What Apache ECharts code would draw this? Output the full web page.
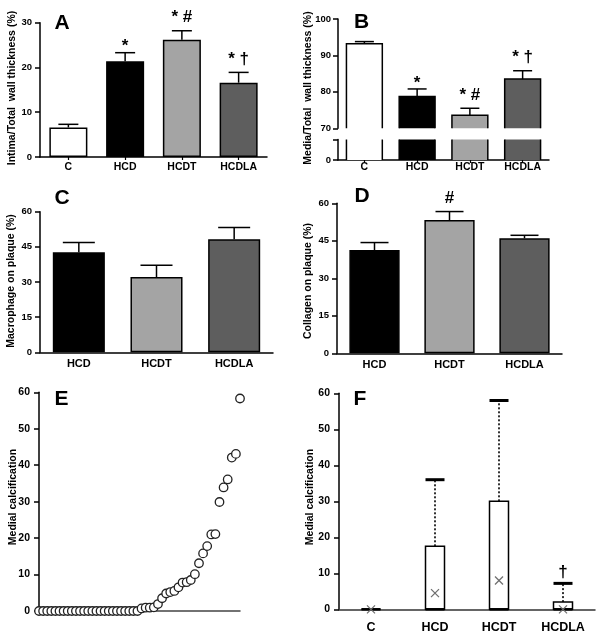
<!DOCTYPE html>
<html><head><meta charset="utf-8">
<script src="https://cdn.jsdelivr.net/npm/echarts@6/dist/echarts.min.js"></script>
<style>html,body{margin:0;padding:0;background:#fff}#c{width:600px;height:641px}</style>
</head><body><div id="c"></div>
<script>
const FONT = '"Liberation Sans", Arial, sans-serif';

// ---- Panel A: Intima/Total wall thickness (%)
const catsA = ['C', 'HCD', 'HCDT', 'HCDLA'];
const valsA = [6.6, 21.4, 26.2, 16.6];
const errA = [0.7, 1.9, 2.0, 2.3];
const markA = ['', '*', '* #', '* \u2020'];
const ticksA = [0, 10, 20, 30];

// ---- Panel B: Media/Total wall thickness (%) (broken axis)
const catsB = ['C', 'HCD', 'HCDT', 'HCDLA'];
const valsB = [93.2, 78.7, 73.6, 83.5];
const errB = [0.6, 2.1, 1.9, 2.3];
const markB = ['', '*', '* #', '* \u2020'];
const ticksBUpper = [70, 80, 90, 100];
const ticksBLower = [0, 70];

// ---- Panel C: Macrophage on plaque (%)
const catsC = ['HCD', 'HCDT', 'HCDLA'];
const valsC = [42.7, 32.1, 48.2];
const errC = [4.2, 5.0, 5.1];
const ticksC = [0, 15, 30, 45, 60];

// ---- Panel D: Collagen on plaque (%)
const catsD = ['HCD', 'HCDT', 'HCDLA'];
const valsD = [41.3, 53.3, 46.0];
const errD = [3.0, 3.4, 1.2];
const markD = ['', '#', ''];
const ticksD = [0, 15, 30, 45, 60];

// ---- Panel E: Medial calcification, all animals ranked
const calcZeros = [0,0,0,0,0,0,0,0,0,0,0,0,0,0,0,0,0,0,0,0,0,0,0,0,0];
const calcNonZero = [0.7, 0.9, 0.9, 1.0, 1.9, 3.5, 4.8, 5.2, 5.5, 6.5, 7.8, 7.9, 8.5,
  10.1, 13.1, 15.8, 17.8, 21.0, 21.1, 29.9, 33.9, 36.1, 42.1, 43.1, 58.3];
const ticksE = [0, 10, 20, 30, 40, 50, 60];

// ---- Panel F: Medial calcification box plot
const catsF = ['C', 'HCD', 'HCDT', 'HCDLA'];
const fMin = [0, 0, 0, 0];
const fQ1 = [0, 0, 0, 0];
const fMed = [0, 0, 0, 0];
const fQ3 = [0, 17.5, 30, 2];
const fMax = [0, 36, 58, 7.2];
const fMean = [0, 4.5, 8, 0];
const markF = ['', '', '', '\u2020'];
const ticksF = [0, 10, 20, 30, 40, 50, 60];

const groupColor = { C: '#ffffff', HCD: '#000000', HCDT: '#a4a4a4', HCDLA: '#5e5e5e' };

const chart = echarts.init(document.getElementById('c'), null, { renderer: 'canvas' });

const grids = [
  { left: 40, top: 22.7, width: 227, height: 134.3 },   // A
  { left: 338, top: 19, width: 211, height: 109.3 },    // B upper
  { left: 338, top: 139.5, width: 211, height: 20.5 },  // B lower
  { left: 40, top: 211.7, width: 233, height: 140.6 },  // C
  { left: 337, top: 203.3, width: 225, height: 150 },   // D
  { left: 39, top: 392.3, width: 201, height: 218.7 },  // E
  { left: 339, top: 393.3, width: 256, height: 216 }    // F
];

const axLine = { show: true, lineStyle: { color: '#000', width: 1.5 } };
function yAx(gi, ticks, opts) {
  return Object.assign({
    type: 'value', gridIndex: gi, min: ticks[0], max: ticks[ticks.length - 1],
    interval: ticks[1] - ticks[0],
    axisLine: axLine,
    axisTick: { show: true, length: 5, lineStyle: { color: '#000', width: 1.5 } },
    axisLabel: { fontFamily: FONT, fontWeight: 'bold', fontSize: 9.5, color: '#000', margin: 8 },
    splitLine: { show: false }
  }, opts || {});
}
function xCat(gi, cats, opts) {
  return Object.assign({
    type: 'category', gridIndex: gi, data: cats,
    axisLine: axLine,
    axisTick: { show: false },
    axisLabel: { fontFamily: FONT, fontWeight: 'bold', fontSize: 10.5, color: '#000', margin: 5 },
    splitLine: { show: false }
  }, opts || {});
}

function barSeries(xi, yi, cats, vals) {
  return {
    type: 'bar', xAxisIndex: xi, yAxisIndex: yi, barWidth: '67%', z: 2,
    data: vals.map((v, i) => ({ value: v, itemStyle: { color: groupColor[cats[i]], borderColor: '#000', borderWidth: 1.5 } })),
    silent: true
  };
}

function errSeries(xi, yi, cats, vals, errs, marks, capW) {
  return {
    type: 'custom', xAxisIndex: xi, yAxisIndex: yi, z: 5, silent: true,
    data: cats.map((c, i) => [i, vals[i], errs[i]]),
    encode: { x: 0, y: 1 },
    renderItem(params, api) {
      const i = api.value(0), v = api.value(1), e = api.value(2);
      const p0 = api.coord([i, v]), p1 = api.coord([i, v + e]);
      const ch = [
        { type: 'line', shape: { x1: p0[0], y1: p0[1], x2: p1[0], y2: p1[1] }, style: { stroke: '#000', lineWidth: 1.5 } },
        { type: 'line', shape: { x1: p1[0] - capW / 2, y1: p1[1], x2: p1[0] + capW / 2, y2: p1[1] }, style: { stroke: '#000', lineWidth: 1.5 } }
      ];
      const m = marks ? marks[params.dataIndex] : '';
      if (m) {
        const gap = (m === '*') ? 6 : 13;
        ch.push({ type: 'text', style: { text: m, x: p1[0], y: p1[1] - gap, align: 'center', verticalAlign: 'middle', font: 'bold 17px ' + FONT, fill: '#000' } });
      }
      return { type: 'group', children: ch };
    }
  };
}

function brokenBars(xi, yi, upper) {
  return {
    type: 'custom', xAxisIndex: xi, yAxisIndex: yi, z: 2, silent: true,
    data: catsB.map((c, i) => [i, valsB[i]]),
    encode: { x: 0, y: 1 },
    clip: false,
    renderItem(params, api) {
      const i = api.value(0), v = api.value(1);
      const w = api.size([1, 0])[0] * 0.68;
      const cs = params.coordSys;
      const x = api.coord([i, ticksBUpper[0]])[0];
      const bottom = cs.y + cs.height;
      const top = upper ? api.coord([i, v])[1] : cs.y;
      const fill = groupColor[catsB[params.dataIndex]];
      const ch = [{ type: 'rect', shape: { x: x - w / 2, y: top, width: w, height: bottom - top }, style: { fill: fill } }];
      if (upper) {
        ch.push({ type: 'polyline', shape: { points: [[x - w / 2, bottom], [x - w / 2, top], [x + w / 2, top], [x + w / 2, bottom]] }, style: { stroke: '#000', lineWidth: 1.5, fill: null } });
      } else {
        ch.push({ type: 'line', shape: { x1: x - w / 2, y1: top, x2: x - w / 2, y2: bottom }, style: { stroke: '#000', lineWidth: 1.5 } });
        ch.push({ type: 'line', shape: { x1: x + w / 2, y1: top, x2: x + w / 2, y2: bottom }, style: { stroke: '#000', lineWidth: 1.5 } });
      }
      return { type: 'group', children: ch };
    }
  };
}

const calcSorted = calcZeros.concat(calcNonZero);

const boxSeries = {
  type: 'custom', xAxisIndex: 6, yAxisIndex: 6, z: 5, silent: true,
  data: catsF.map((c, i) => [i, fMin[i], fQ1[i], fMed[i], fQ3[i], fMax[i], fMean[i]]),
  encode: { x: 0, y: [1, 2, 3, 4, 5, 6] },
  renderItem(params, api) {
    const i = api.value(0);
    const bw = 19, capW = 19, xs = 4;
    const x = api.coord([i, 0])[0];
    const yQ1 = api.coord([i, api.value(2)])[1];
    const yMed = api.coord([i, api.value(3)])[1];
    const yQ3 = api.coord([i, api.value(4)])[1];
    const yMax = api.coord([i, api.value(5)])[1];
    const yMean = api.coord([i, api.value(6)])[1];
    const ch = [];
    if (api.value(5) > api.value(4)) {
      ch.push({ type: 'line', shape: { x1: x, y1: yQ3, x2: x, y2: yMax }, style: { stroke: '#000', lineWidth: 1.6, lineDash: [2, 2] } });
      ch.push({ type: 'line', shape: { x1: x - capW / 2, y1: yMax, x2: x + capW / 2, y2: yMax }, style: { stroke: '#000', lineWidth: 3 } });
    }
    ch.push({ type: 'rect', shape: { x: x - bw / 2, y: yQ3, width: bw, height: yQ1 - yQ3 }, style: { stroke: '#000', lineWidth: 1.5, fill: '#fff' } });
    ch.push({ type: 'line', shape: { x1: x - bw / 2, y1: yMed, x2: x + bw / 2, y2: yMed }, style: { stroke: '#000', lineWidth: 2.5 } });
    ch.push({ type: 'line', shape: { x1: x - xs, y1: yMean - xs, x2: x + xs, y2: yMean + xs }, style: { stroke: '#6e6e6e', lineWidth: 1.2 } });
    ch.push({ type: 'line', shape: { x1: x - xs, y1: yMean + xs, x2: x + xs, y2: yMean - xs }, style: { stroke: '#6e6e6e', lineWidth: 1.2 } });
    const m = markF[params.dataIndex];
    if (m) ch.push({ type: 'text', style: { text: m, x: x, y: yMax - 11, align: 'center', verticalAlign: 'middle', font: 'bold 17px ' + FONT, fill: '#000' } });
    return { type: 'group', children: ch };
  }
};

function yName(text, cx, cy) {
  return { type: 'text', x: cx, y: cy, rotation: Math.PI / 2,
    style: { text: text, align: 'center', verticalAlign: 'middle', font: 'bold 10.5px ' + FONT, fill: '#000' } };
}
function panelLetter(text, cx, cy) {
  return { type: 'text', x: cx, y: cy,
    style: { text: text, align: 'center', verticalAlign: 'middle', font: 'bold 21px ' + FONT, fill: '#000' } };
}

const option = {
  animation: false,
  backgroundColor: '#fff',
  grid: grids,
  xAxis: [
    xCat(0, catsA, { axisTick: { show: true, alignWithLabel: true, length: 3, lineStyle: { color: '#000', width: 1.2 } } }),
    xCat(1, catsB, { show: false }),
    xCat(2, catsB, { axisTick: { show: true, alignWithLabel: true, length: 3, lineStyle: { color: '#000', width: 1.2 } }, axisLabel: { fontFamily: FONT, fontWeight: 'bold', fontSize: 10.5, color: '#000', margin: 2 } }),
    xCat(3, catsC, { axisLabel: { fontFamily: FONT, fontWeight: 'bold', fontSize: 11, color: '#000', margin: 6 } }),
    xCat(4, catsD, { axisLabel: { fontFamily: FONT, fontWeight: 'bold', fontSize: 11, color: '#000', margin: 6 } }),
    { type: 'value', gridIndex: 5, min: 0, max: calcSorted.length - 1, axisLine: { show: true, lineStyle: { color: '#444', width: 1.5 } },
      axisTick: { show: false }, axisLabel: { show: false }, splitLine: { show: false } },
    xCat(6, catsF, { axisLine: { show: true, lineStyle: { color: '#333', width: 1.5 } }, axisLabel: { fontFamily: FONT, fontWeight: 'bold', fontSize: 12.5, color: '#000', margin: 12 } })
  ],
  yAxis: [
    yAx(0, ticksA),
    yAx(1, ticksBUpper, { axisLabel: { fontFamily: FONT, fontWeight: 'bold', fontSize: 9.5, color: '#000', margin: 7 } }),
    yAx(2, ticksBLower, { axisLabel: { fontFamily: FONT, fontWeight: 'bold', fontSize: 9.5, color: '#000', margin: 7, formatter: v => (v === ticksBLower[0] ? String(v) : '') } }),
    yAx(3, ticksC),
    yAx(4, ticksD),
    yAx(5, ticksE, { axisLabel: { fontFamily: FONT, fontWeight: 'bold', fontSize: 10.5, color: '#000', margin: 9 } }),
    yAx(6, ticksF, { axisLabel: { fontFamily: FONT, fontWeight: 'bold', fontSize: 10.5, color: '#000', margin: 9 } })
  ],
  graphic: [
    yName('Intima/Total  wall thickness (%)', 12, 88),
    yName('Media/Total  wall thickness (%)', 308, 88),
    yName('Macrophage on plaque (%)', 11, 281),
    yName('Collagen on plaque (%)', 308, 281),
    yName('Medial calcification', 13, 497),
    yName('Medial calcification', 310, 497),
    panelLetter('A', 62, 23),
    panelLetter('B', 361.5, 22.5),
    panelLetter('C', 62, 198),
    panelLetter('D', 362, 196),
    panelLetter('E', 61.5, 399),
    panelLetter('F', 360, 399.5)
  ],
  series: [
    barSeries(0, 0, catsA, valsA),
    errSeries(0, 0, catsA, valsA, errA, markA, 20),
    brokenBars(1, 1, true),
    brokenBars(2, 2, false),
    errSeries(1, 1, catsB, valsB, errB, markB, 19),
    barSeries(3, 3, catsC, valsC),
    errSeries(3, 3, catsC, valsC, errC, null, 32),
    barSeries(4, 4, catsD, valsD),
    errSeries(4, 4, catsD, valsD, errD, markD, 28),
    {
      type: 'scatter', xAxisIndex: 5, yAxisIndex: 5, silent: true,
      data: calcSorted.map((v, i) => [i, v]),
      symbol: 'circle', symbolSize: 8.5,
      itemStyle: { color: '#fff', borderColor: '#222', borderWidth: 1.3, opacity: 1 }
    },
    boxSeries
  ]
};
chart.setOption(option);
</script></body></html>
